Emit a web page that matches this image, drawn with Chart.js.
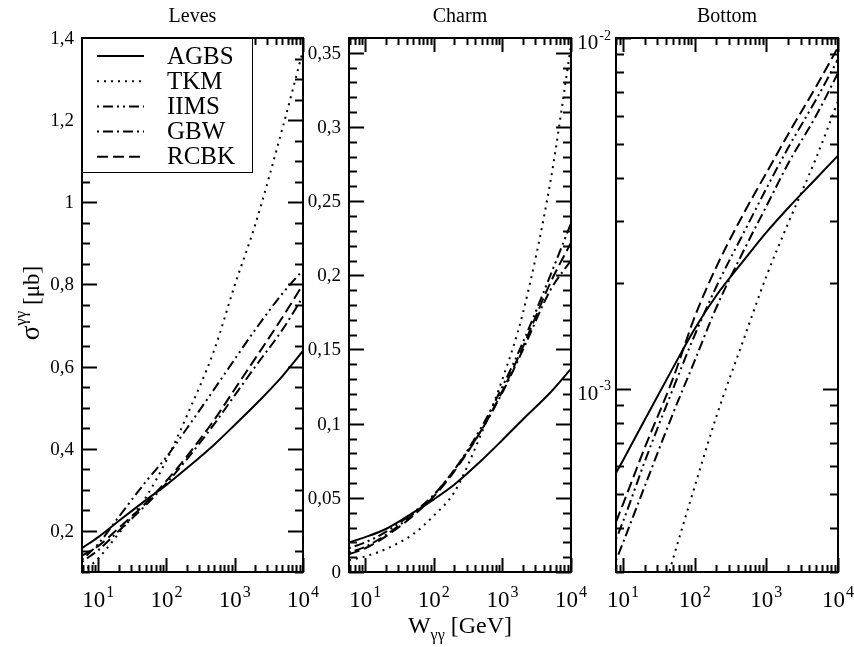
<!DOCTYPE html>
<html lang="en">
<head>
<meta charset="UTF-8">
<title>sigma gamma gamma</title>
<script src="https://cdn.jsdelivr.net/npm/chart.js"></script>
<style>
  body { margin: 0; background: #fff; }
  #wrap { position: relative; width: 854px; height: 647px; background: #fff; }
  #wrap canvas { position: absolute; left: 0; top: 0; }
</style>
</head>
<body>
<div id="wrap">
  <canvas id="leves" width="854" height="647"></canvas>
  <canvas id="charm" width="854" height="647"></canvas>
  <canvas id="bottom" width="854" height="647"></canvas>
</div>
<script>
// W_gg [GeV]
const wLight = [5.8, 10, 20, 50, 100, 200, 500, 1000, 2000, 5000, 10000];
const wBottom = [8, 10, 20, 50, 100, 200, 500, 1000, 2000, 5000, 10000];

const models = ['AGBS', 'TKM', 'IIMS', 'GBW', 'RCBK'];

// sigma [mub] - quarks leves
const levesAGBS = [0.158, 0.185, 0.224, 0.275, 0.312, 0.353, 0.41, 0.458, 0.507, 0.577, 0.638];
const levesTKM  = [0.098, 0.133, 0.194, 0.282, 0.372, 0.481, 0.64, 0.798, 0.946, 1.18, 1.37];
const levesIIMS = [0.13, 0.168, 0.234, 0.32, 0.38, 0.45, 0.545, 0.618, 0.69, 0.778, 0.835];
const levesGBW  = [0.125, 0.153, 0.2, 0.263, 0.316, 0.375, 0.46, 0.53, 0.6, 0.69, 0.77];
const levesRCBK = [0.14, 0.163, 0.207, 0.268, 0.322, 0.382, 0.47, 0.545, 0.62, 0.72, 0.8];

// charm
const charmAGBS = [0.02, 0.0235, 0.029, 0.04, 0.049, 0.059, 0.0754, 0.089, 0.103, 0.121, 0.137];
const charmTKM  = [0.008, 0.0105, 0.0155, 0.0255, 0.038, 0.054, 0.094, 0.13, 0.175, 0.263, 0.355];
const charmIIMS = [0.016, 0.02, 0.027, 0.04, 0.052, 0.069, 0.098, 0.125, 0.155, 0.2, 0.235];
const charmGBW  = [0.013, 0.017, 0.025, 0.039, 0.052, 0.069, 0.096, 0.121, 0.15, 0.19, 0.21];
const charmRCBK = [0.012, 0.016, 0.024, 0.038, 0.051, 0.068, 0.096, 0.122, 0.152, 0.195, 0.222];

// bottom
const bottomAGBS = [5.75e-4, 6.24e-4, 8.13e-4, 1.148e-3, 1.48e-3, 1.84e-3, 2.34e-3, 2.79e-3, 3.27e-3, 3.98e-3, 4.62e-3];
const bottomTKM  = [null, null, 1.7e-4, 3.27e-4, 5.25e-4, 8.3e-4, 1.41e-3, 2.09e-3, 2.95e-3, 4.57e-3, 6.6e-3];
const bottomIIMS = [3.72e-4, 4.17e-4, 6.17e-4, 1.0e-3, 1.42e-3, 1.95e-3, 2.82e-3, 3.72e-3, 4.85e-3, 6.7e-3, 8.7e-3];
const bottomGBW  = [3.24e-4, 3.63e-4, 5.25e-4, 8.5e-4, 1.2e-3, 1.7e-3, 2.51e-3, 3.31e-3, 4.37e-3, 6.03e-3, 7.94e-3];
const bottomRCBK = [4.17e-4, 4.68e-4, 6.76e-4, 1.07e-3, 1.6e-3, 2.22e-3, 3.2e-3, 4.12e-3, 5.3e-3, 7.3e-3, 9.4e-3];

// tick labels
const xTickValues = [10, 100, 1000, 10000];
const xTickExps = ['1', '2', '3', '4'];
const levesTicks = [0.2, 0.4, 0.6, 0.8, 1, 1.2, 1.4];
const levesTickLabels = ['0,2', '0,4', '0,6', '0,8', '1', '1,2', '1,4'];
const charmTicks = [0, 0.05, 0.1, 0.15, 0.2, 0.25, 0.3, 0.35];
const charmTickLabels = ['0', '0,05', '0,1', '0,15', '0,2', '0,25', '0,3', '0,35'];
const bottomTicks = [1e-3, 1e-2];
const bottomTickExps = ['-3', '-2'];

const lineStyles = {
  AGBS: { dash: [], width: 2 },
  TKM: { dash: [2, 5], width: 2 },
  IIMS: { dash: [2, 4, 10, 4, 2, 4], width: 2 },
  GBW: { dash: [2, 4, 10, 4], width: 2 },
  RCBK: { dash: [11, 5], width: 2 }
};

const FONT = '"Liberation Serif", "Times New Roman", serif';
Chart.defaults.font.family = FONT;

function logSteps(min, max) {
  const out = [];
  for (let e = Math.floor(Math.log10(min)); e <= Math.ceil(Math.log10(max)); e++) {
    for (let k = 1; k <= 9; k++) {
      const v = k * Math.pow(10, e);
      if (v >= min * 0.999 && v <= max * 1.001) out.push({ v, major: k === 1 });
    }
  }
  return out;
}

function seg(ctx, x1, y1, x2, y2) {
  ctx.beginPath();
  ctx.moveTo(x1, y1);
  ctx.lineTo(x2, y2);
  ctx.stroke();
}

// "10" with a raised exponent; align: 'center' or 'right'
function drawPow(ctx, sup, x, y, size, supSize, align) {
  ctx.font = size + 'px ' + FONT;
  const wb = ctx.measureText('10').width;
  ctx.font = supSize + 'px ' + FONT;
  const ws = ctx.measureText(sup).width;
  let x0 = align === 'right' ? x - wb - ws - 1 : x - (wb + ws + 1) / 2;
  ctx.textAlign = 'left';
  ctx.textBaseline = 'alphabetic';
  ctx.font = size + 'px ' + FONT;
  ctx.fillText('10', x0, y);
  ctx.font = supSize + 'px ' + FONT;
  ctx.fillText(sup, x0 + wb + 1, y - size * 0.45);
}

function framePlugin(cfg) {
  return {
    id: 'frame' + cfg.id,
    afterDraw(chart) {
      const { ctx, chartArea: a, scales: { x, y } } = chart;
      ctx.save();
      ctx.strokeStyle = '#000';
      ctx.fillStyle = '#000';
      ctx.lineWidth = 2;
      ctx.setLineDash([]);

      // x ticks (log), both edges, pointing in
      logSteps(x.min, x.max).forEach(t => {
        const px = Math.round(x.getPixelForValue(t.v)) + 0.5;
        const len = t.major ? 14 : 7;
        seg(ctx, px, a.bottom, px, a.bottom - len);
        seg(ctx, px, a.top, px, a.top + len);
      });

      // y ticks
      let yt;
      if (cfg.yLog) {
        yt = logSteps(y.min, y.max);
      } else {
        yt = [];
        for (let v = cfg.yMin; v <= cfg.yMax + 1e-9; v += cfg.yMinorStep) {
          const r = Math.round(v * 1e6) / 1e6;
          yt.push({ v: r, major: cfg.yTicks.some(m => Math.abs(m - r) < 1e-6) });
        }
      }
      yt.forEach(t => {
        const py = Math.round(y.getPixelForValue(t.v)) + 0.5;
        const len = t.major ? 15 : 8;
        seg(ctx, a.left, py, a.left + len, py);
        seg(ctx, a.right, py, a.right - len, py);
      });

      ctx.strokeRect(a.left, a.top, a.right - a.left, a.bottom - a.top);

      // x tick labels
      xTickValues.forEach((v, i) => {
        if (v < x.min * 0.999) return;
        drawPow(ctx, xTickExps[i], x.getPixelForValue(v), 607, 23, 16, 'center');
      });

      // y tick labels
      if (cfg.yLog) {
        cfg.yTicks.forEach((v, i) => {
          const py = y.getPixelForValue(v);
          drawPow(ctx, cfg.yTickExps[i], a.left - 5, py + 11, 21, 14, 'right');
        });
      } else {
        ctx.font = '19px ' + FONT;
        ctx.textAlign = 'right';
        ctx.textBaseline = 'middle';
        cfg.yTicks.forEach((v, i) => {
          ctx.fillText(cfg.yTickLabels[i], a.left - 8, y.getPixelForValue(v) + 1);
        });
      }

      // panel title
      ctx.font = '20px ' + FONT;
      ctx.textAlign = 'center';
      ctx.textBaseline = 'middle';
      ctx.fillText(cfg.title, (a.left + a.right) / 2, 17);

      if (cfg.legend) drawLegend(ctx, a);
      if (cfg.axisTitles) drawAxisTitles(ctx);
      ctx.restore();
    }
  };
}

function drawLegend(ctx, a) {
  const bx = a.left, by = a.top, bw = 170, bh = 134;
  ctx.fillStyle = '#fff';
  ctx.fillRect(bx, by, bw, bh);
  ctx.lineWidth = 1;
  ctx.strokeStyle = '#000';
  ctx.strokeRect(bx + 0.5, by + 0.5, bw, bh);
  ctx.fillStyle = '#000';
  ctx.font = '25px ' + FONT;
  ctx.textAlign = 'left';
  ctx.textBaseline = 'middle';
  models.forEach((m, i) => {
    const yy = by + 18 + i * 25.2;
    ctx.lineWidth = lineStyles[m].width;
    ctx.setLineDash(lineStyles[m].dash);
    seg(ctx, bx + 15, yy, bx + 62, yy);
    ctx.setLineDash([]);
    ctx.fillText(m, bx + 85, yy + 1);
  });
}

function drawAxisTitles(ctx) {
  ctx.fillStyle = '#000';
  ctx.textAlign = 'left';
  ctx.textBaseline = 'alphabetic';
  // x title: W_gg [GeV]
  ctx.font = '24px ' + FONT;
  const wW = ctx.measureText('W').width;
  const wG = ctx.measureText(' [GeV]').width;
  ctx.font = '16px ' + FONT;
  const wS = ctx.measureText('\u03b3\u03b3').width;
  let x0 = 460 - (wW + wS + wG) / 2;
  ctx.font = '24px ' + FONT;
  ctx.fillText('W', x0, 633);
  ctx.font = '16px ' + FONT;
  ctx.fillText('\u03b3\u03b3', x0 + wW, 640);
  ctx.font = '24px ' + FONT;
  ctx.fillText(' [GeV]', x0 + wW + wS, 633);

  // y title: sigma^gg [mub]
  ctx.save();
  ctx.translate(39, 303);
  ctx.rotate(-Math.PI / 2);
  ctx.font = '27px ' + FONT;
  const ws = ctx.measureText('\u03c3').width;
  ctx.font = '23px ' + FONT;
  const wb = ctx.measureText(' [\u03bcb]').width;
  ctx.font = '17px ' + FONT;
  const wg = ctx.measureText('\u03b3\u03b3').width;
  let u0 = -(ws + wg + wb) / 2;
  ctx.font = '27px ' + FONT;
  ctx.fillText('\u03c3', u0, 0);
  ctx.font = '17px ' + FONT;
  ctx.fillText('\u03b3\u03b3', u0 + ws, -13);
  ctx.font = '23px ' + FONT;
  ctx.fillText(' [\u03bcb]', u0 + ws + wg, 0);
  ctx.restore();
}

function makePanel(cfg) {
  const datasets = models.map((m, i) => ({
    label: m,
    data: cfg.x.map((w, j) => ({ x: w, y: cfg.series[i][j] })),
    borderColor: '#000',
    borderWidth: lineStyles[m].width,
    borderDash: lineStyles[m].dash,
    pointRadius: 0,
    fill: false,
    cubicInterpolationMode: 'monotone'
  }));
  new Chart(document.getElementById(cfg.id), {
    type: 'line',
    data: { datasets },
    options: {
      responsive: false,
      animation: false,
      events: [],
      layout: { padding: { left: cfg.left, right: 854 - cfg.right, top: 38, bottom: 647 - 572 } },
      scales: {
        x: { type: 'logarithmic', min: cfg.xMin, max: 10000, display: false },
        y: { type: cfg.yLog ? 'logarithmic' : 'linear', min: cfg.yMin, max: cfg.yMax, display: false }
      },
      plugins: { legend: { display: false }, tooltip: { enabled: false } }
    },
    plugins: [framePlugin(cfg)]
  });
}

makePanel({
  id: 'leves', title: 'Leves', left: 82, right: 303, x: wLight, xMin: 5.8,
  series: [levesAGBS, levesTKM, levesIIMS, levesGBW, levesRCBK],
  yMin: 0.1, yMax: 1.4, yMinorStep: 0.05, yTicks: levesTicks, yTickLabels: levesTickLabels,
  legend: true, axisTitles: true
});

makePanel({
  id: 'charm', title: 'Charm', left: 349, right: 571, x: wLight, xMin: 5.8,
  series: [charmAGBS, charmTKM, charmIIMS, charmGBW, charmRCBK],
  yMin: 0, yMax: 0.36, yMinorStep: 0.01, yTicks: charmTicks, yTickLabels: charmTickLabels
});

makePanel({
  id: 'bottom', title: 'Bottom', left: 616, right: 838, x: wBottom, xMin: 8,
  series: [bottomAGBS, bottomTKM, bottomIIMS, bottomGBW, bottomRCBK],
  yLog: true, yMin: 3e-4, yMax: 1e-2, yTicks: bottomTicks, yTickExps: bottomTickExps
});
</script>
</body>
</html>
